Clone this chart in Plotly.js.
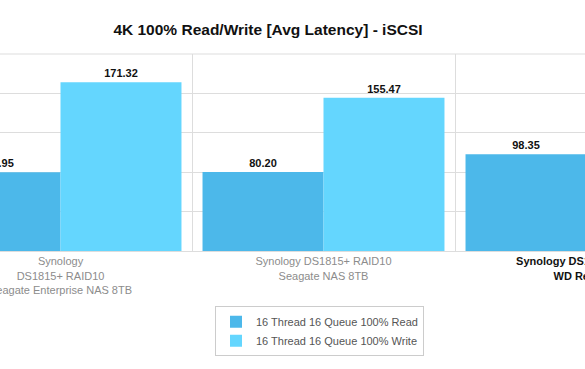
<!DOCTYPE html>
<html>
<head>
<meta charset="utf-8">
<script src="https://cdn.plot.ly/plotly-3.0.1.min.js"></script>
<style>html,body{margin:0;padding:0;background:#fff;overflow:hidden;width:585px;height:369px;}#chart{width:592px;height:369px;}</style>
</head>
<body>
<div id="chart"></div>
<script>
const categories = [
  "Synology<br>DS1815+ RAID10<br>Seagate Enterprise NAS 8TB",
  "Synology DS1815+ RAID10<br>Seagate NAS 8TB",
  "Synology DS1815+ RAID10<br>WD Red 6TB"
];
const tickLabels = [
  "Synology<br>DS1815+ RAID10<br>Seagate Enterprise NAS 8TB",
  "Synology DS1815+ RAID10<br>Seagate NAS 8TB",
  "<span style='color:#111'><b>Synology DS1815+ RAID10<br>WD Red 6TB</b></span>"
];
const readSeries = [79.95, 80.20, 98.35];
const writeSeries = [171.32, 155.47, 165.10];
const seriesNames = ["16 Thread 16 Queue 100% Read", "16 Thread 16 Queue 100% Write"];

const W = 592;
const textFont = {family: "Liberation Sans, Arial, sans-serif", size: 11, color: "#111"};

const traces = [
  {type: "bar", name: seriesNames[0], x: categories, y: readSeries,
   marker: {color: "#4cb8ea"}, text: readSeries.map(v => "<b>" + v.toFixed(2) + "</b>"),
   textposition: "outside", textfont: textFont, cliponaxis: false, hoverinfo: "y"},
  {type: "bar", name: seriesNames[1], x: categories, y: writeSeries,
   marker: {color: "#64d6fe"}, text: writeSeries.map(v => "<b>" + v.toFixed(2) + "</b>"),
   textposition: "outside", textfont: textFont, cliponaxis: false, hoverinfo: "y"}
];

const layout = {
  width: W, height: 369,
  margin: {l: 0, r: 0, t: 54, b: 118},
  paper_bgcolor: "#fff", plot_bgcolor: "#fff",
  font: {family: "Liberation Sans, Arial, sans-serif", size: 11, color: "#8c8c8c"},
  title: {text: "<b>4K 100% Read/Write [Avg Latency] - iSCSI</b>",
          font: {family: "Liberation Sans, Arial, sans-serif", size: 15.5, color: "#111"},
          x: 268 / W, xanchor: "center", y: 0.92, yanchor: "middle"},
  barmode: "group", bargap: 0.08, bargroupgap: 0,
  showlegend: true,
  legend: {orientation: "v", x: 215 / W, xanchor: "left", y: -0.28, yanchor: "top",
           itemwidth: 30,
           bordercolor: "#ccc", borderwidth: 1, bgcolor: "#fff",
           font: {family: "Liberation Sans, Arial, sans-serif", size: 11, color: "#555"}},
  xaxis: {type: "category", range: [-60.5 / 263, (W - 60.5) / 263], tickson: "boundaries",
          showgrid: true, gridcolor: "#ddd", gridwidth: 1, ticks: "",
          tickvals: categories, ticktext: tickLabels,
          tickfont: {family: "Liberation Sans, Arial, sans-serif", size: 11, color: "#8c8c8c"},
          showline: true, linecolor: "#ddd", zeroline: false, fixedrange: true},
  yaxis: {range: [0, 200], dtick: 40, showgrid: true, gridcolor: "#ddd", gridwidth: 1,
          showticklabels: false, zeroline: false, showline: false, fixedrange: true},
  shapes: [{type: "line", xref: "paper", yref: "paper", x0: 0, x1: 1, y0: 1, y1: 1,
            line: {color: "#ddd", width: 1}}]
};

Plotly.newPlot("chart", traces, layout, {displayModeBar: false, staticPlot: true});
</script>
</body>
</html>
